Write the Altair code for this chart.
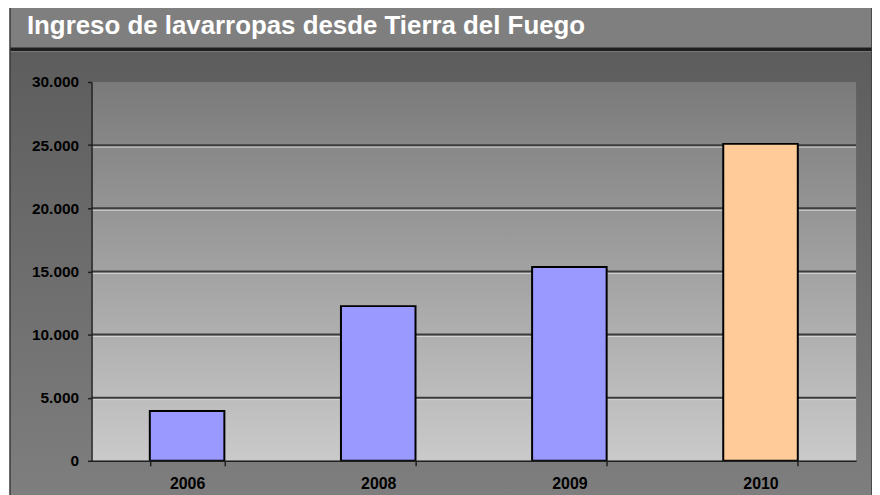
import altair as alt
import pandas as pd

# ---- data ----
years = ["2006", "2008", "2009", "2010"]
values = [3950, 12250, 15350, 25100]
bar_colors = ["#9999ff", "#9999ff", "#9999ff", "#ffcc99"]
y_ticks = [0, 5000, 10000, 15000, 20000, 25000, 30000]
grid_vals = [5000, 10000, 15000, 20000, 25000]
title_text = "Ingreso de lavarropas desde Tierra del Fuego"

df = pd.DataFrame({"year": years, "value": values})
grid_df = pd.DataFrame({"v": grid_vals})

W, H = 769, 381
FONT = "Liberation Sans"
one = alt.Data(values=[{}])


def grad(c1, c2):
    return alt.Gradient(
        gradient="linear",
        stops=[alt.GradientStop(color=c1, offset=0), alt.GradientStop(color=c2, offset=1)],
        x1=0, x2=0, y1=0, y2=1,
    )


def box(x1, x2, y1, y2, **mk):
    return alt.Chart(one).mark_rect(**mk).encode(
        x=alt.value(x1), x2=alt.value(x2), y=alt.value(y1), y2=alt.value(y2)
    )


title_bar = box(-82, 785, -80, -35, fill="#7f7f7f")
separator = box(-82, 785, -35, -31, fill="#1e1e1e")
panel = box(-82, 785, -31, 440, fill=grad("#5d5d5d", "#808080"))
border = box(-82, 785, -80, 440, filled=False, stroke="#3a3a3a", strokeWidth=1.5)
plot_bg = box(0, W, 0, H, fill=grad("#7a7a7a", "#cacaca"))

title = alt.Chart(one).mark_text(
    align="left", baseline="alphabetic", font=FONT, fontSize=26,
    fontWeight="bold", color="white",
).encode(x=alt.value(-65), y=alt.value(-48), text=alt.value(title_text))

grid_dark = alt.Chart(grid_df).mark_rule(color="#3c3c3c", strokeWidth=2).encode(
    y=alt.Y("v:Q", scale=alt.Scale(domain=[0, 30000], nice=False))
)
grid_light = alt.Chart(grid_df).mark_rule(color="#d6d6d6", strokeWidth=1, yOffset=2).encode(
    y=alt.Y("v:Q")
)

bars = alt.Chart(df).mark_bar(stroke="black", strokeWidth=2).encode(
    x=alt.X(
        "year:N",
        sort=years,
        scale=alt.Scale(paddingInner=0.61, paddingOuter=0.305),
        axis=alt.Axis(
            title=None, labelAngle=0, tickBand="extent", tickSize=5, labelPadding=10,
            labelFont=FONT, labelFontSize=16, labelFontWeight="bold", labelColor="black",
            domainColor="#202020", domainWidth=1.5, tickColor="#202020", tickWidth=1.5,
            zindex=1,
        ),
    ),
    y=alt.Y(
        "value:Q",
        scale=alt.Scale(domain=[0, 30000], nice=False),
        axis=alt.Axis(
            title=None, values=y_ticks, grid=False, tickSize=4, labelPadding=9,
            labelExpr="replace(format(datum.value, ','), ',', '.')",
            labelFont=FONT, labelFontSize=15.5, labelFontWeight="bold", labelColor="black",
            domainColor="#202020", domainWidth=1.5, tickColor="#202020", tickWidth=1.5,
            zindex=1,
        ),
    ),
    color=alt.Color("year:N", scale=alt.Scale(domain=years, range=bar_colors), legend=None),
)

chart = alt.layer(
    title_bar, separator, panel, border, title, plot_bg, grid_dark, grid_light, bars
).properties(
    width=W,
    height=H,
    autosize=alt.AutoSizeParams(type="none"),
    padding={"left": 84, "top": 73, "right": 16, "bottom": 40},
    background="white",
).configure_view(stroke=None)

chart.save("out.html", embed_options={"renderer": "svg", "actions": False})
